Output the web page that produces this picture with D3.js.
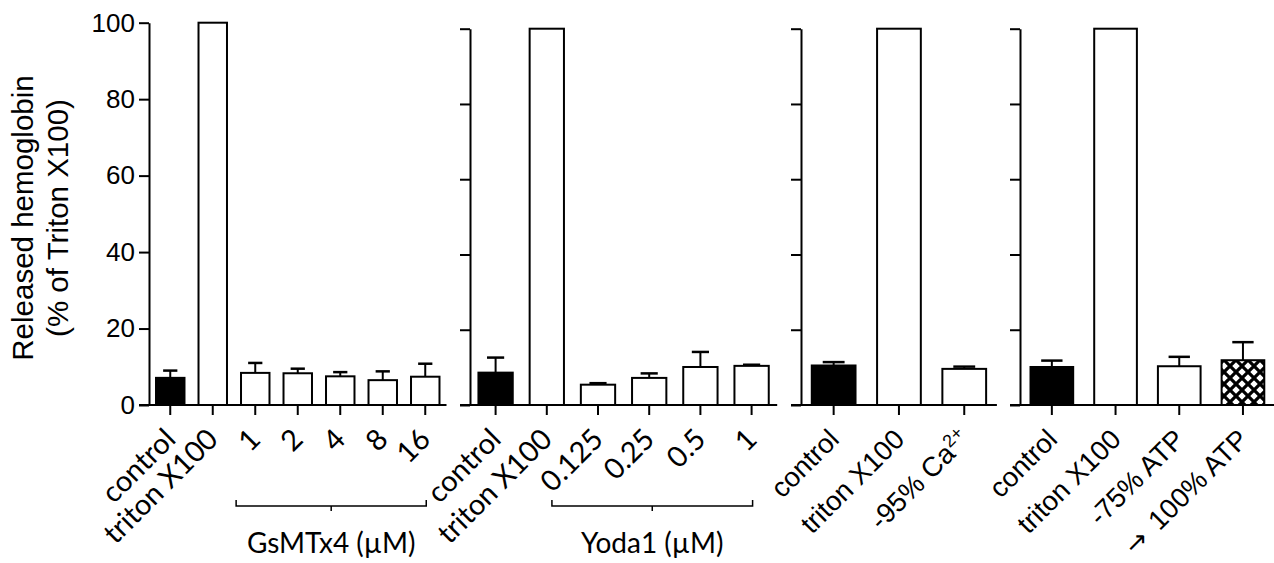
<!DOCTYPE html>
<html>
<head>
<meta charset="utf-8">
<script src="https://cdn.jsdelivr.net/npm/d3@7"></script>
<style>
  body { margin: 0; background: #fff; }
  svg { display: block; }
  .axis path, .axis line { stroke: #000; stroke-width: 2px; }
  .axis text { font-family: "Liberation Sans", Arial, sans-serif; font-size: 26px; fill: #000; }
</style>
</head>
<body>
<script>
// values (% of triton X100), error = SEM going up only
var gsCats = ['control', 'triton X100', '1', '2', '4', '8', '16'];
var gsVals = [7.1, 100, 8.4, 8.3, 7.5, 6.5, 7.4];
var gsErr  = [1.9, 0, 2.6, 1.2, 1.1, 2.3, 3.4];

var yoCats = ['control', 'triton X100', '0.125', '0.25', '0.5', '1'];
var yoVals = [8.6, 100, 5.4, 7.2, 10.1, 10.4];
var yoErr  = [4.0, 0, 0.4, 1.2, 4.0, 0.3];

var caCats = ['control', 'triton X100', '-95% Ca'];
var caVals = [10.5, 100, 9.6];
var caErr  = [0.9, 0, 0.6];

var atpCats = ['control', 'triton X100', '-75% ATP', '100% ATP'];
var atpVals = [10.1, 100, 10.3, 11.9];
var atpErr  = [1.7, 0, 2.5, 4.8];

var yTicks = [0, 20, 40, 60, 80, 100];

var svgWidth = 1274;
let svgHeight = 563;
let baseY = 405;

var svg = d3.select('body').append('svg')
  .attr('width', svgWidth)
  .attr('height', svgHeight);

// cross hatch for the last bar
var pat = svg.append('defs').append('pattern')
  .attr('id', 'hatch')
  .attr('patternUnits', 'userSpaceOnUse')
  .attr('width', 12)
  .attr('height', 12);
pat.append('rect').attr('width', 12).attr('height', 12).attr('fill', '#fff');
pat.append('path')
  .attr('d', 'M-2,-2L14,14M14,-2L-2,14')
  .attr('stroke', '#000')
  .attr('stroke-width', 3.2);

var calibriLike = 'Lato, "Open Sans", sans-serif';
var arialLike = '"Liberation Sans", Arial, sans-serif';

var panels = [
  {cats: gsCats, vals: gsVals, err: gsErr, x0: 149, step: 42.5, top: 22.7, labels: true, font: calibriLike, size: 29,
   fills: ['#000', '#fff', '#fff', '#fff', '#fff', '#fff', '#fff'],
   group: {name: 'GsMTx4 (\u00b5M)', from: '1', to: '16', lead: 0.45}},
  {cats: yoCats, vals: yoVals, err: yoErr, x0: 470, step: 51.2, top: 28.7, labels: false, font: calibriLike, size: 29,
   fills: ['#000', '#fff', '#fff', '#fff', '#fff', '#fff'],
   group: {name: 'Yoda1 (\u00b5M)', from: '0.125', to: '1', lead: 0.9}},
  {cats: caCats, vals: caVals, err: caErr, x0: 801, step: 65.3, top: 28.7, labels: false, font: arialLike, size: 27.5,
   fills: ['#000', '#fff', '#fff']},
  {cats: atpCats, vals: atpVals, err: atpErr, x0: 1020, step: 63.7, top: 28.7, labels: false, font: arialLike, size: 27.5,
   fills: ['#000', '#fff', '#fff', 'url(#hatch)']}
];

panels.forEach(function(p) {
  var x = d3.scaleBand()
    .domain(p.cats)
    .range([p.x0, p.x0 + p.step * p.cats.length])
    .paddingInner(0.33)
    .paddingOuter(0.165);
  var y = d3.scaleLinear().domain([0, 100]).range([baseY, p.top]);
  var g = svg.append('g');
  var bw = x.bandwidth();

  // bars
  g.selectAll('.bar')
    .data(p.cats)
    .enter()
    .append('rect')
    .attr('class', 'bar')
    .attr('x', function(d) { return x(d); })
    .attr('y', function(d, i) { return y(p.vals[i]); })
    .attr('width', bw)
    .attr('height', function(d, i) { return baseY - y(p.vals[i]); })
    .attr('fill', function(d, i) { return p.fills[i]; })
    .attr('stroke', '#000')
    .attr('stroke-width', 2);

  // error bars (upper half only)
  var eb = g.selectAll('.err')
    .data(p.cats.filter(function(d, i) { return p.err[i] > 0; }))
    .enter()
    .append('g')
    .attr('class', 'err');
  eb.append('line')
    .attr('x1', function(d) { return x(d) + bw / 2; })
    .attr('x2', function(d) { return x(d) + bw / 2; })
    .attr('y1', function(d) { var i = p.cats.indexOf(d); return y(p.vals[i]); })
    .attr('y2', function(d) { var i = p.cats.indexOf(d); return y(p.vals[i] + p.err[i]); })
    .attr('stroke', '#000').attr('stroke-width', 2);
  eb.append('line')
    .attr('x1', function(d) { return x(d) + bw / 4; })
    .attr('x2', function(d) { return x(d) + bw * 3 / 4; })
    .attr('y1', function(d) { var i = p.cats.indexOf(d); return y(p.vals[i] + p.err[i]); })
    .attr('y2', function(d) { var i = p.cats.indexOf(d); return y(p.vals[i] + p.err[i]); })
    .attr('stroke', '#000').attr('stroke-width', 2.5);

  // y axis
  var yAxis = d3.axisLeft(y).tickValues(yTicks).tickSize(10).tickSizeOuter(0).tickPadding(4);
  if (!p.labels) yAxis.tickFormat('');
  g.append('g')
    .attr('class', 'axis')
    .attr('transform', 'translate(' + p.x0 + ',0)')
    .call(yAxis);

  // x axis: baseline + downward ticks
  g.append('g')
    .attr('class', 'axis')
    .attr('transform', 'translate(0,' + baseY + ')')
    .call(d3.axisBottom(x).tickSize(10).tickSizeOuter(0).tickFormat(''))
    .call(function(a) { a.select('.domain').remove(); });
  g.append('line')
    .attr('x1', p.x0 - 10)
    .attr('x2', x.range()[1])
    .attr('y1', baseY)
    .attr('y2', baseY)
    .attr('stroke', '#000')
    .attr('stroke-width', 2);

  // rotated category labels, baseline ends just right of the tick
  var lab = g.selectAll('.lab')
    .data(p.cats)
    .enter()
    .append('text')
    .attr('class', 'lab')
    .attr('transform', function(d) {
      return 'translate(' + (x(d) + bw / 2 + 7) + ',' + (baseY + 36) + ') rotate(-45)';
    })
    .attr('text-anchor', 'end')
    .style('font-family', p.font)
    .style('font-size', p.size + 'px')
    .text(function(d) { return d === '100% ATP' ? '' : d; });
  lab.filter(function(d) { return d === '-95% Ca'; })
    .append('tspan')
    .attr('baseline-shift', 'super')
    .style('font-size', '18px')
    .text('2+');
  lab.filter(function(d) { return d === '100% ATP'; })
    .append('tspan')
    .style('font-family', '"DejaVu Sans", sans-serif')
    .style('font-size', '26px')
    .text('\u2192');
  lab.filter(function(d) { return d === '100% ATP'; })
    .append('tspan').attr('dx', 13).text('100% ATP');

  // bracket + group name
  if (p.group) {
    var bx1 = x(p.group.from) + bw / 2 - p.step * p.group.lead;
    var bx2 = x(p.group.to) + bw / 2 + 1;
    var bm = (bx1 + bx2) / 2;
    g.append('path')
      .attr('d', 'M' + bx1 + ',500V506H' + bx2 + 'V500M' + bm + ',506V511')
      .attr('fill', 'none')
      .attr('stroke', '#000')
      .attr('stroke-width', 1.5);
    g.append('text')
      .attr('x', bm)
      .attr('y', 553)
      .attr('text-anchor', 'middle')
      .style('font-family', calibriLike)
      .style('font-size', '28px')
      .text(p.group.name);
  }
});

// y axis title
svg.append('text')
  .attr('transform', 'translate(23,218) rotate(-90)')
  .attr('text-anchor', 'middle')
  .attr('dy', '0.35em')
  .style('font-family', arialLike)
  .style('font-size', '29.5px')
  .text('Released hemoglobin');
svg.append('text')
  .attr('transform', 'translate(58,218) rotate(-90)')
  .attr('text-anchor', 'middle')
  .attr('dy', '0.35em')
  .style('font-family', arialLike)
  .style('font-size', '29.5px')
  .text('(% of Triton X100)');
</script>
</body>
</html>
